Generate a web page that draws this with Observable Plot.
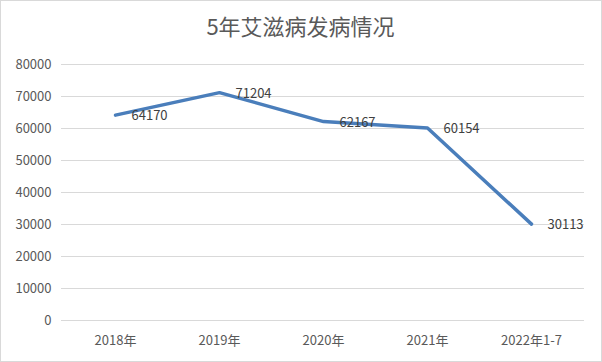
<!DOCTYPE html>
<html>
<head>
<meta charset="utf-8">
<script src="https://cdn.jsdelivr.net/npm/d3@7"></script>
<script src="https://cdn.jsdelivr.net/npm/@observablehq/plot@0.6"></script>
<style>
  html, body { margin: 0; padding: 0; background: #fff; }
  #chart { width: 600px; height: 360px; border: 1px solid #d9d9d9; background: #fff; }
  #chart svg { display: block; }
</style>
</head>
<body>
<div id="chart"></div>
<script>
const title = "5年艾滋病发病情况";
const categories = ["2018年", "2019年", "2020年", "2021年", "2022年1-7"];
const values = [64170, 71204, 62167, 60154, 30113];
const yTicks = [0, 10000, 20000, 30000, 40000, 50000, 60000, 70000, 80000];

const data = categories.map((c, i) => ({category: c, value: values[i]}));
const font = "'Noto Sans CJK SC', 'Noto Sans', sans-serif";

const chart = Plot.plot({
  width: 600,
  height: 360,
  marginLeft: 60,
  marginRight: 17,
  marginTop: 63,
  marginBottom: 41,
  style: {fontFamily: font, fontSize: "13px", color: "#595959", background: "#fff"},
  x: {type: "point", domain: categories, padding: 0.5, label: null},
  y: {domain: [0, 80000], ticks: yTicks, label: null},
  marks: [
    Plot.gridY(yTicks, {stroke: "#d9d9d9", strokeOpacity: 1, strokeWidth: 1}),
    Plot.axisY(yTicks, {tickSize: 0, tickPadding: 10, tickFormat: d => String(d), fill: "#595959", fontSize: 13}),
    Plot.axisX({tickSize: 0, tickPadding: 15, fill: "#595959", fontSize: 13}),
    Plot.line(data, {x: "category", y: "value", stroke: "#4a7ebb", strokeWidth: 3.5, strokeLinejoin: "round", strokeLinecap: "round"}),
    Plot.text(data, {x: "category", y: "value", text: d => String(d.value), textAnchor: "start", dx: 16, dy: 1, fill: "#404040", fontSize: 13}),
    Plot.text([title], {frameAnchor: "top", lineAnchor: "middle", dx: -22.5, dy: -37, text: d => d, fill: "#595959", fontSize: 22})
  ]
});
document.getElementById("chart").appendChild(chart);
</script>
</body>
</html>
